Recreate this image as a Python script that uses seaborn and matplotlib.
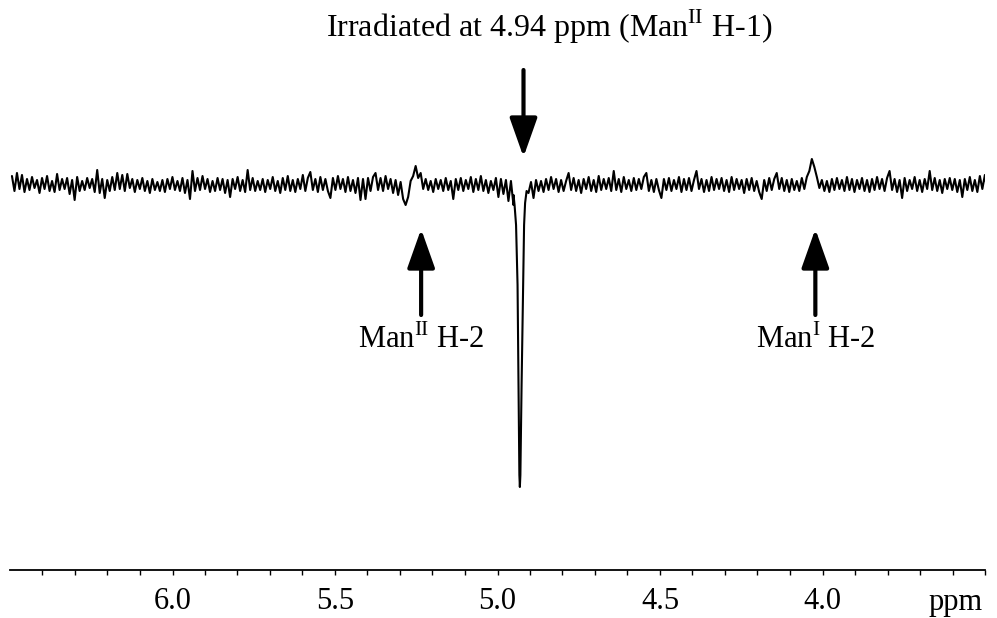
import numpy as np
import pandas as pd
import matplotlib
matplotlib.use("Agg")
import matplotlib.pyplot as plt
import seaborn as sns

# Baseline trace (offset from baseline, ~1 unit per pixel),
# sampled evenly from 6.494 ppm down to 3.485 ppm
noise = [
    9, -6, 12, -4, 10, -7, 6, -5, 8, -3, 5, -8, 7, -4, 9, -6, 4, -7, 11, -5,
    6, -4, 7, -9, 5, -15, 8, -6, 4, -5, 7, -3, 6, -7, 15, -8, 6, -13, 5, -6,
    8, -5, 12, -4, 10, -6, 11, -3, 6, -7, 5, -4, 7, -6, 4, -8, 6, -5, 3, -6,
    5, -7, 6, -4, 8, -5, 4, -6, 7, -8, 5, -14, 14, -6, 7, -5, 9, -4, 6, -7,
    4, -6, 7, -5, 6, -8, 5, -12, 6, -4, 8, -6, 5, -7, 15, -5, 7, -6, 4, -5,
    6, -7, 5, -4, 8, -6, 4, -8, 7, -5, 9, -6, 5, -7, 6, -4, 10, -6, 7, 13,
    -5, 6, -7, 8, -5, 6, -6, -13, 7, -5, 9, -4, 6, -7, 8, -6, 5, -8, 7, -15,
    6, -14, 7, -6, 8, 12, -5, 7, -6, 9, -4, 6, -8, 5, -10, 3, -14, -20, -12, 4,
    9, 19, 7, 12, -4, 6, -5, 4, -7, 6, -4, 5, -6, 7, -5, 4, -14, 6, -5, 7,
    -6, 5, -4, 8, -7, 6, -5, 9, -6, 5, -8, 4, -5, 7, -12, 6, -9, 5, -16, 4,
    -20, -8, -30, -10, -18, -6, -8, 3, -13, 5, -6, 4, -7, 6, -5, 8, -4, 6, -7, 5,
    -6, 4, 12, -5, 7, -6, 5, -8, 6, -4, 8, -6, 5, -7, 9, -5, 6, -4, 7, -6,
    14, -5, 6, -7, 8, -4, 5, -6, 7, -5, 6, -4, 8, 12, -6, 5, -7, 6, -5, -13,
    6, -5, 7, -6, 5, -4, 8, -7, 6, -5, 7, -6, 5, 14, -4, 6, -7, 5, -6, 8,
    -5, 6, -4, 7, -6, 5, -7, 8, -5, 6, -4, 5, -8, 6, -5, 7, -6, 4, -7, -14,
    5, -6, 7, -5, 6, 12, -4, 7, -6, 5, -7, 6, -5, 4, -6, 7, -4, 8, 14, 26,
    18, 8, -3, 5, -6, 4, -7, 6, -5, 7, -4, 5, -6, 8, -5, 6, -7, 5, -4, 7,
    -6, 5, -7, 6, -5, 8, -4, 6, -6, 7, 14, -5, 6, -7, 5, -13, 7, -6, 5, -4,
    8, -6, 5, -7, 6, -4, 14, -5, 7, -6, 5, -8, 6, -4, 7, -5, 6, -7, 5, -12,
    6, -5, 8, -6, 5, -7, 9, -4, 10, -6, 8,
]
ppm_start, ppm_end = 6.494, 3.485

# the saturated (irradiated) signal, read point by point
dip_ppm = [4.9506, 4.9475, 4.9429, 4.9383, 4.9352, 4.9327, 4.9312,
           4.9296, 4.9259, 4.9213, 4.9182, 4.9151, 4.9105]
dip_val = [-10, -20, -40, -100, -200, -290, -302, -290, -200, -100, -40, -18, -6]

title_text = r"Irradiated at 4.94 ppm (Man$^{\mathrm{II}}$ H-1)"
irr_ppm = 4.92
labels = [r"Man$^{\mathrm{II}}$ H-2", r"Man$^{\mathrm{I}}$ H-2"]
label_ppm = [5.235, 4.022]
major_ticks = [6.0, 5.5, 5.0, 4.5, 4.0]

# build the trace
ppm = np.linspace(ppm_start, ppm_end, len(noise))
val = np.array(noise, dtype=float)
keep = (ppm > max(dip_ppm)) | (ppm < min(dip_ppm))
df = pd.DataFrame({"ppm": np.concatenate([ppm[keep], dip_ppm]),
                   "val": np.concatenate([val[keep], dip_val])})
df = df.sort_values("ppm", ascending=False).reset_index(drop=True)

sns.set_style("white")
plt.rcParams["font.family"] = ["Liberation Serif", "DejaVu Serif"]
plt.rcParams["mathtext.fontset"] = "custom"
plt.rcParams["mathtext.rm"] = "Liberation Serif"
plt.rcParams["text.color"] = "black"
plt.rcParams["xtick.color"] = "black"
plt.rcParams["axes.edgecolor"] = "black"

W, H = 997, 618
fig = plt.figure(figsize=(W / 100, H / 100), dpi=100)
ax = fig.add_axes([10 / W, 48 / H, 975 / W, 420 / H])

sns.lineplot(data=df, x="ppm", y="val", ax=ax, color="black", lw=1.5,
             estimator=None, sort=False)

ax.set_xlim(6.5, 3.5)
ax.set_ylim(-385, 35)
for s in ["left", "right", "top"]:
    ax.spines[s].set_visible(False)
ax.spines["bottom"].set_linewidth(1.3)
ax.set_yticks([])
ax.set_xticks(major_ticks)
ax.set_xticklabels([f"{t:.1f}" for t in major_ticks])
ax.set_xticks(np.arange(3.5, 6.45, 0.1), minor=True)
ax.tick_params(axis="x", which="both", direction="out", length=3.5, width=1,
               labelsize=22, pad=9, bottom=True, colors="black")
ax.set_xlabel("")
ax.set_ylabel("")

fig.text(983 / W, 8 / H, "ppm", ha="right", va="baseline", fontsize=22)
fig.text(549 / W, (H - 37) / H, title_text, ha="center", va="baseline", fontsize=23)

arrow = dict(arrowstyle="-|>,head_length=2.4,head_width=0.85", lw=3,
             color="black", shrinkA=0, shrinkB=0, mutation_scale=10)
ax.annotate("", xy=(irr_ppm, 28), xytext=(irr_ppm, 115),
            arrowprops=arrow, annotation_clip=False)
for lab, p in zip(labels, label_ppm):
    ax.annotate("", xy=(p, -44), xytext=(p, -130),
                arrowprops=arrow, annotation_clip=False)
    ax.text(p, -163, lab, ha="center", va="baseline", fontsize=22)

fig.savefig("out.png", dpi=100)
